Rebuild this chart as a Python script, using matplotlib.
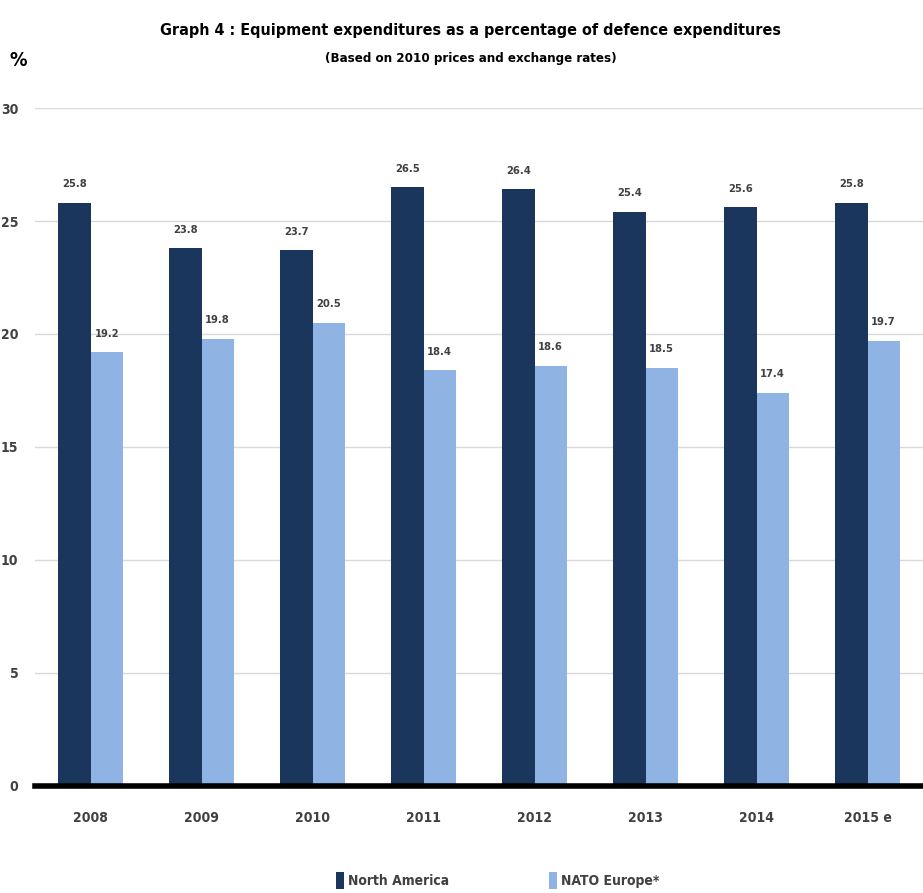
import matplotlib.pyplot as plt
import numpy as np

years = ['2008', '2009', '2010', '2011', '2012', '2013', '2014', '2015 e']
north_america = [25.8, 23.8, 23.7, 26.5, 26.4, 25.4, 25.6, 25.8]
nato_europe = [19.2, 19.8, 20.5, 18.4, 18.6, 18.5, 17.4, 19.7]

dark = '#1b365d'
light = '#8fb4e3'
txt = '#404040'

plt.rcParams['font.family'] = ['DejaVu Sans']
plt.rcParams['font.stretch'] = 'condensed'

fig = plt.figure(figsize=(9.23, 8.93), dpi=100)
ax = fig.add_axes([0.038, 0.12, 0.962, 0.759])

x = np.arange(len(years))
w = 0.29
b1 = ax.bar(x - w / 2, north_america, w, color=dark, label='North America', zorder=3)
b2 = ax.bar(x + w / 2, nato_europe, w, color=light, label='NATO Europe*', zorder=3)

for bars, vals in ((b1, north_america), (b2, nato_europe)):
    for r, v in zip(bars, vals):
        ax.text(r.get_x() + r.get_width() / 2, v + 0.6, '%.1f' % v,
                ha='center', va='bottom', fontsize=8, fontweight='bold', color=txt)

ax.set_xlim(-0.5, len(years) - 0.5)
ax.set_ylim(0, 30)
ax.set_yticks(range(0, 31, 5))
ax.set_xticks(x)
ax.set_xticklabels(years)
ax.grid(axis='y', color='#d9d9d9', linewidth=1, zorder=0)
for s in ['top', 'right', 'left']:
    ax.spines[s].set_visible(False)
ax.spines['bottom'].set_linewidth(4)
ax.spines['bottom'].set_color('black')
ax.spines['bottom'].set_zorder(4)
ax.tick_params(axis='both', length=0, labelsize=10, labelcolor=txt)
ax.tick_params(axis='x', pad=18)
ax.tick_params(axis='y', pad=12)
for lab in ax.get_xticklabels() + ax.get_yticklabels():
    lab.set_fontweight('bold')

fig.text(0.51, 0.966, 'Graph 4 : Equipment expenditures as a percentage of defence expenditures',
         ha='center', va='center', fontsize=11.5, fontweight='bold', color='black')
fig.text(0.51, 0.934, '(Based on 2010 prices and exchange rates)',
         ha='center', va='center', fontsize=9.5, fontweight='bold', color='black')
fig.text(0.02, 0.932, '%', ha='center', va='center', fontsize=14, fontweight='bold', color='black')

leg = fig.legend(loc='center', bbox_to_anchor=(0.539, 0.014), ncol=2, frameon=False,
                 fontsize=10, handlelength=0.55, handleheight=1.4, handletextpad=0.3,
                 columnspacing=7.2)
for t in leg.get_texts():
    t.set_color(txt)
    t.set_fontweight('bold')

plt.savefig('out.png', dpi=100)
